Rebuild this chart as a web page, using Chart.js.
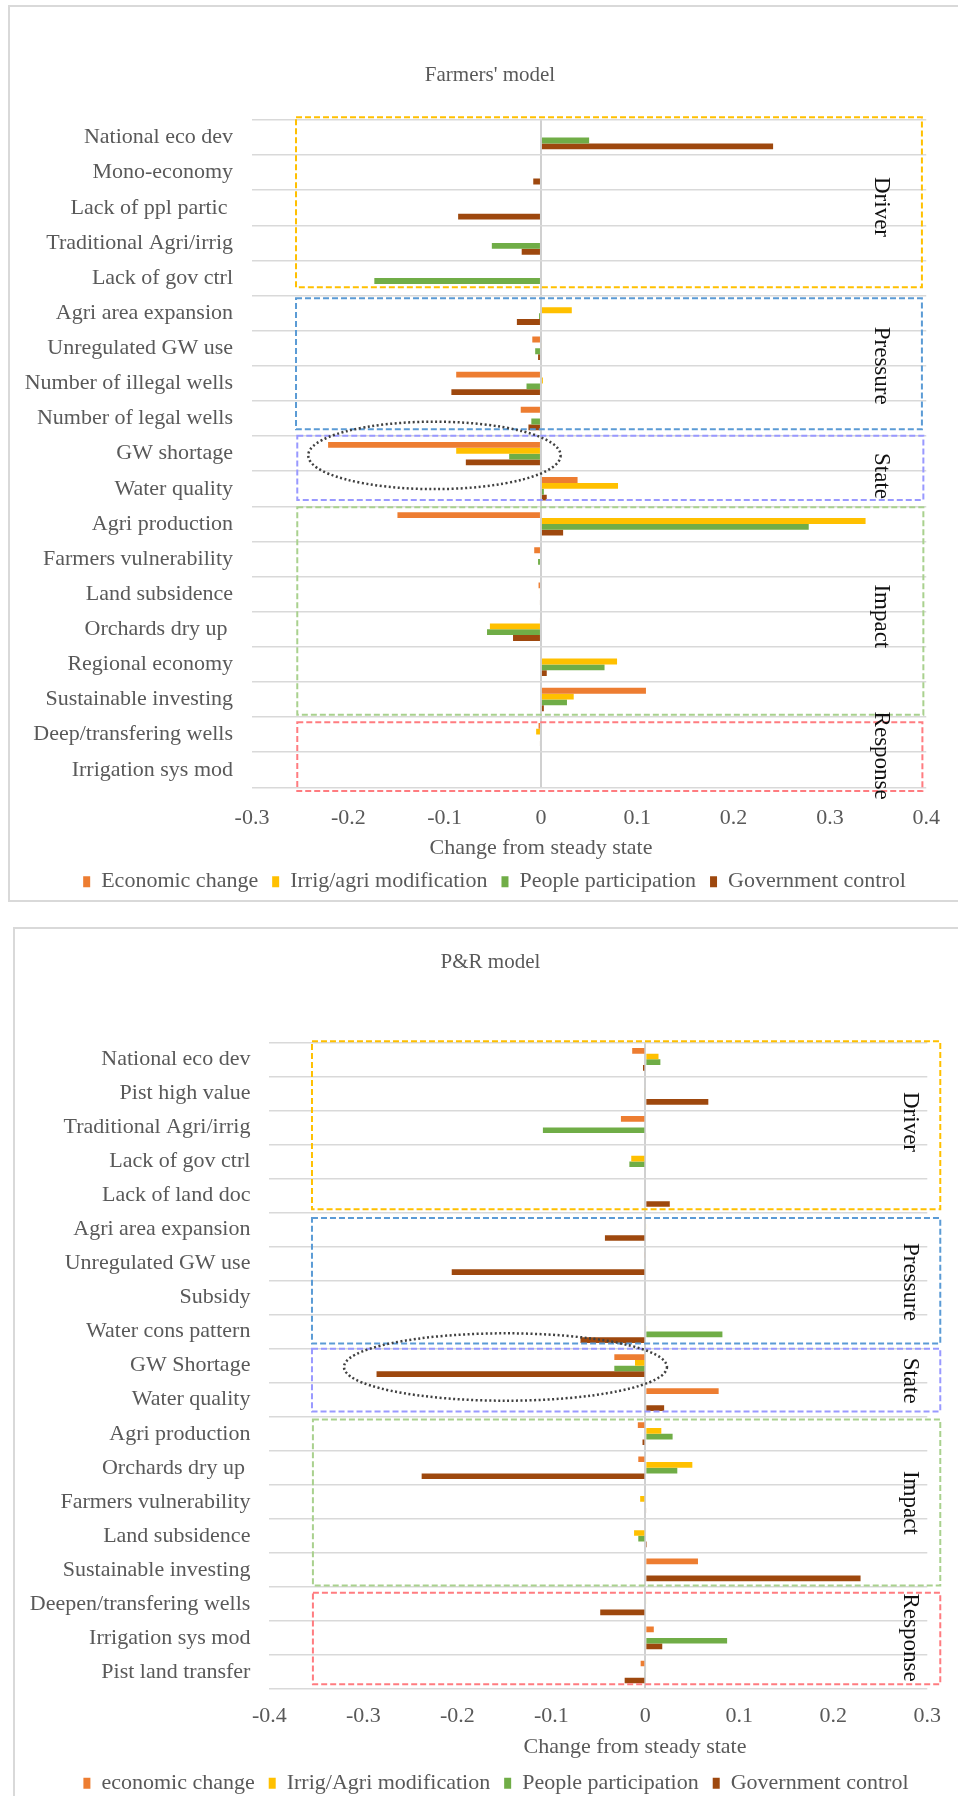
<!DOCTYPE html>
<html>
<head>
<meta charset="utf-8">
<title>Farmers' model / P&amp;R model</title>
<script src="https://cdn.jsdelivr.net/npm/chart.js@4"></script>
<style>
  html, body { margin: 0; padding: 0; background: #fff; }
  body { width: 958px; height: 1796px; overflow: hidden; position: relative; }
  .frame { position: absolute; border: 2px solid #d9d9d9; box-sizing: border-box; }
  canvas { position: absolute; left: 0; }
</style>
</head>
<body>
<div class="frame" style="left:8px;top:5px;width:1000px;height:897px"></div>
<div class="frame" style="left:13px;top:927px;width:1000px;height:1000px"></div>
<canvas id="farmersChart" width="958" height="905" style="top:0"></canvas>
<canvas id="prChart" width="958" height="900" style="top:920px"></canvas>
<script>
// ---- Farmers' model ----
const categories1 = ['National eco dev', 'Mono-economy', 'Lack of ppl partic ', 'Traditional Agri/irrig',
  'Lack of gov ctrl', 'Agri area expansion', 'Unregulated GW use', 'Number of illegal wells',
  'Number of legal wells', 'GW shortage', 'Water quality', 'Agri production', 'Farmers vulnerability',
  'Land subsidence', 'Orchards dry up ', 'Regional economy', 'Sustainable investing',
  'Deep/transfering wells', 'Irrigation sys mod'];
const seriesNames1 = ['Economic change', 'Irrig/agri modification', 'People participation', 'Government control'];
const econ1   = [0, 0, 0, 0, 0, 0, -0.009, -0.088, -0.021, -0.221, 0.038, -0.149, -0.007, -0.0025, -0.001, 0, 0.109, -0.0025, 0];
const irrig1  = [0, 0, 0, 0, 0, 0.032, 0.001, 0.002, 0, -0.088, 0.080, 0.337, 0, -0.001, -0.053, 0.079, 0.034, -0.005, 0];
const people1 = [0.050, -0.001, 0, -0.051, -0.173, -0.002, -0.006, -0.015, -0.010, -0.033, 0.003, 0.278, -0.003, 0, -0.056, 0.066, 0.027, 0, 0];
const gov1    = [0.241, -0.008, -0.086, -0.020, 0, -0.025, -0.003, -0.093, -0.013, -0.078, 0.006, 0.023, 0, -0.001, -0.029, 0.006, 0.003, -0.001, 0];
const xTicks1 = [-0.3, -0.2, -0.1, 0, 0.1, 0.2, 0.3, 0.4];

// ---- P&R model ----
const categories2 = ['National eco dev', 'Pist high value', 'Traditional Agri/irrig', 'Lack of gov ctrl',
  'Lack of land doc', 'Agri area expansion', 'Unregulated GW use', 'Subsidy', 'Water cons pattern',
  'GW Shortage', 'Water quality', 'Agri production', 'Orchards dry up ', 'Farmers vulnerability',
  'Land subsidence', 'Sustainable investing', 'Deepen/transfering wells', 'Irrigation sys mod',
  'Pist land transfer'];
const seriesNames2 = ['economic change', 'Irrig/Agri modification', 'People participation', 'Government control'];
const econ2   = [-0.014, 0, -0.026, 0, 0, 0, -0.001, 0, 0, -0.033, 0.078, -0.008, -0.0075, 0, 0, 0.056, 0, 0.009, -0.005];
const irrig2  = [0.014, -0.001, 0, -0.015, 0, 0.001, 0, 0, 0.001, -0.011, 0, 0.017, 0.050, -0.0055, -0.012, 0.001, 0.001, 0, 0.001];
const people2 = [0.016, -0.001, -0.109, -0.017, 0, -0.001, -0.001, 0, 0.082, -0.033, 0.001, 0.029, 0.034, 0, -0.0075, 0, 0, 0.087, -0.001];
const gov2    = [-0.0025, 0.067, 0.001, 0, 0.026, -0.043, -0.206, 0, -0.069, -0.286, 0.020, -0.003, -0.238, 0.001, 0.0016, 0.229, -0.048, 0.018, -0.022];
const xTicks2 = [-0.4, -0.3, -0.2, -0.1, 0, 0.1, 0.2, 0.3];

const seriesColors = ['#ED7D31', '#FFC000', '#70AD47', '#9E480E'];

// dashed DPSIR boxes (x in axis units, y in category index units)
const groups1 = [
  { name: 'Driver',   color: '#FFC000', x0: -0.2543, x1: 0.3955, y0: -0.577, y1: 4.264,  ty: 1.977 },
  { name: 'Pressure', color: '#5B9BD5', x0: -0.2543, x1: 0.3955, y0: 4.577,  y1: 8.307,  ty: 6.496 },
  { name: 'State',    color: '#9999FF', x0: -0.253,  x1: 0.397,  y0: 8.489,  y1: 10.32,  ty: 9.637 },
  { name: 'Impact',   color: '#A9D18E', x0: -0.253,  x1: 0.397,  y0: 10.528, y1: 16.433, ty: 13.632 },
  { name: 'Response', color: '#FF7C80', x0: -0.253,  x1: 0.396,  y0: 16.65,  y1: 18.606, ty: 17.6 }
];
const groups2 = [
  { name: 'Driver',   color: '#FFC000', x0: -0.3547, x1: 0.3138, y0: -0.529, y1: 4.407, ty: 1.842 },
  { name: 'Pressure', color: '#5B9BD5', x0: -0.3547, x1: 0.3138, y0: 4.662,  y1: 8.35,  ty: 6.54 },
  { name: 'State',    color: '#9999FF', x0: -0.3547, x1: 0.3138, y0: 8.5,    y1: 10.35, ty: 9.44 },
  { name: 'Impact',   color: '#A9D18E', x0: -0.3537, x1: 0.3138, y0: 10.58,  y1: 15.46, ty: 13.03 },
  { name: 'Response', color: '#FF7C80', x0: -0.3537, x1: 0.3138, y0: 15.67,  y1: 18.36, ty: 16.99 }
];

Chart.defaults.font.family = "'Liberation Serif', 'Times New Roman', serif";
Chart.defaults.color = '#595959';

// title and legend sit off-centre in the original, nudge them after layout
const shiftPlugin = {
  id: 'shift',
  afterLayout(chart, args, opts) {
    if (chart.legend) { chart.legend.left += opts.legendDx; chart.legend.right += opts.legendDx; }
    if (chart.titleBlock) { chart.titleBlock.left += opts.titleDx; chart.titleBlock.right += opts.titleDx; }
  }
};

// boxes, group names, dotted ellipse and the axis title
const decorPlugin = {
  id: 'decor',
  afterDraw(chart, args, opts) {
    const { ctx, chartArea } = chart;
    const x = chart.scales.x, y = chart.scales.y;
    ctx.save();
    ctx.lineWidth = 2;
    ctx.setLineDash([6, 3]);
    opts.groups.forEach(g => {
      const l = x.getPixelForValue(g.x0), r = x.getPixelForValue(g.x1);
      const t = y.getPixelForValue(g.y0), b = y.getPixelForValue(g.y1);
      ctx.strokeStyle = g.color;
      ctx.strokeRect(l, t, r - l, b - t);
    });
    ctx.setLineDash([]);
    ctx.fillStyle = '#111';
    ctx.font = "23px 'Liberation Serif'";
    ctx.textAlign = 'center';
    ctx.textBaseline = 'middle';
    opts.groups.forEach(g => {
      ctx.save();
      ctx.translate(x.getPixelForValue(opts.labelX), y.getPixelForValue(g.ty));
      ctx.rotate(Math.PI / 2);
      ctx.fillText(g.name, 0, 0);
      ctx.restore();
    });

    // dotted ellipse
    const e = opts.ellipse;
    const step = y.getPixelForValue(1) - y.getPixelForValue(0);
    const cx = x.getPixelForValue(e.cx), cy = y.getPixelForValue(e.cy);
    const rx = x.getPixelForValue(e.cx + e.rx) - cx;
    ctx.beginPath();
    ctx.ellipse(cx, cy, rx, e.ry * step, 0, 0, Math.PI * 2);
    ctx.setLineDash([2, 2.5]);
    ctx.lineWidth = 2.5;
    ctx.strokeStyle = '#404040';
    ctx.stroke();
    ctx.setLineDash([]);

    // axis title
    ctx.fillStyle = '#595959';
    ctx.font = "22px 'Liberation Serif'";
    ctx.fillText('Change from steady state', x.getPixelForValue(opts.axisTitleX), chartArea.bottom + opts.axisTitleOffset);
    ctx.restore();
  }
};

function buildChart(id, cfg) {
  const series = cfg.series;
  return new Chart(document.getElementById(id), {
    type: 'bar',
    data: {
      labels: cfg.labels,
      datasets: series.map((vals, i) => ({
        label: cfg.names[i],
        data: vals,
        backgroundColor: seriesColors[i],
        borderWidth: 0
      }))
    },
    options: {
      responsive: false,
      animation: false,
      indexAxis: 'y',
      layout: { padding: cfg.pad },
      datasets: { bar: { categoryPercentage: 0.667, barPercentage: 1.0 } },
      scales: {
        x: {
          min: cfg.xTicks[0],
          max: cfg.xTicks[cfg.xTicks.length - 1],
          afterBuildTicks: s => { s.ticks = cfg.xTicks.map(v => ({ value: v })); },
          afterFit: s => { s.height = cfg.xHeight; },
          border: { display: false },
          grid: {
            drawTicks: false,
            lineWidth: 2,
            color: c => (c.tick && c.tick.value === 0) ? '#d0d0d0' : 'rgba(0,0,0,0)'
          },
          ticks: { padding: cfg.xTickPad, color: '#595959', font: { size: 22 }, callback: v => String(v) }
        },
        y: {
          afterFit: s => { s.width = cfg.yWidth; },
          border: { display: false },
          grid: { drawTicks: false, color: '#d9d9d9', lineWidth: 1.5 },
          ticks: { padding: 19, color: '#595959', font: { size: 22 }, autoSkip: false }
        }
      },
      plugins: {
        title: {
          display: true,
          text: cfg.title,
          color: '#595959',
          font: { size: 21, weight: 'normal' },
          padding: cfg.titlePad
        },
        legend: {
          position: 'bottom',
          labels: { color: '#595959', font: { size: 22 }, boxWidth: 7, boxHeight: 11, padding: 14 }
        },
        tooltip: { enabled: false },
        shift: { legendDx: cfg.legendDx, titleDx: cfg.titleDx },
        decor: {
          groups: cfg.groups,
          labelX: cfg.labelX,
          ellipse: cfg.ellipse,
          axisTitleX: cfg.axisTitleX,
          axisTitleOffset: cfg.axisTitleOffset
        }
      }
    },
    plugins: [shiftPlugin, decorPlugin]
  });
}

buildChart('farmersChart', {
  title: "Farmers' model",
  labels: categories1,
  names: seriesNames1,
  series: [econ1, irrig1, people1, gov1],
  xTicks: xTicks1,
  pad: { left: 0, right: 28, top: 0, bottom: 2.3 },
  titlePad: { top: 62.4, bottom: 32.4 },
  yWidth: 252,
  xHeight: 69.4,
  xTickPad: 18,
  legendDx: 29.5,
  titleDx: 25,
  groups: groups1,
  labelX: 0.353,
  ellipse: { cx: -0.1106, cy: 9.05, rx: 0.131, ry: 0.96 },
  axisTitleX: 0,
  axisTitleOffset: 61
});

buildChart('prChart', {
  title: 'P&R model',
  labels: categories2,
  names: seriesNames2,
  series: [econ2, irrig2, people2, gov2],
  xTicks: xTicks2,
  pad: { left: 0, right: 30.7, top: 0, bottom: 15.7 },
  titlePad: { top: 30.1, bottom: 67 },
  yWidth: 269.4,
  xHeight: 69.3,
  xTickPad: 14,
  legendDx: 32.3,
  titleDx: 26.8,
  groups: groups2,
  labelX: 0.2812,
  ellipse: { cx: -0.1488, cy: 9.04, rx: 0.1718, ry: 0.99 },
  axisTitleX: -0.011,
  axisTitleOffset: 58.5
});
</script>
</body>
</html>
